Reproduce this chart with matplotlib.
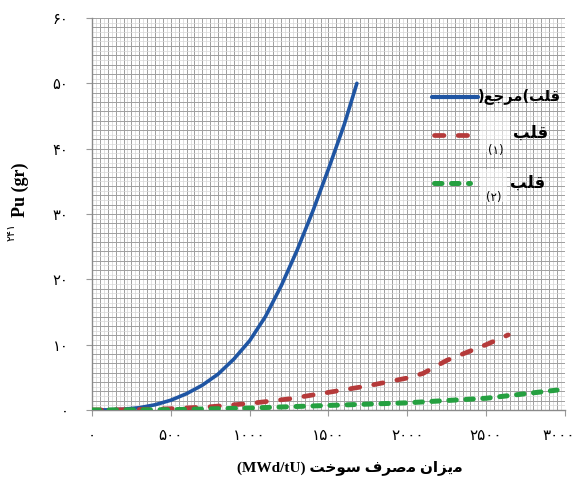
import matplotlib
matplotlib.use('Agg')

import matplotlib.pyplot as plt
import matplotlib.transforms as mtransforms
import numpy as np
from matplotlib.patches import Rectangle
from matplotlib.lines import Line2D

# ---------------- DATA ----------------
burnup_ref = [0, 100, 200, 300, 400, 500, 600, 700, 800, 900, 1000, 1100, 1200,
              1300, 1400, 1500, 1600, 1680]
pu_ref = [0.0, 0.02, 0.12, 0.35, 0.8, 1.5, 2.5, 3.8, 5.5, 7.8, 10.6, 14.3, 19.0,
          24.4, 30.4, 36.9, 43.7, 50.0]

burnup_c1 = [0, 250, 500, 750, 1000, 1250, 1500, 1750, 2000, 2100, 2250, 2500, 2640]
pu_c1 = [0.0, 0.05, 0.2, 0.5, 1.0, 1.7, 2.7, 3.7, 4.9, 5.6, 7.6, 10.0, 11.5]

burnup_c2 = [0, 500, 1000, 1500, 2000, 2500, 2950]
pu_c2 = [0.0, 0.05, 0.3, 0.7, 1.1, 1.8, 3.05]

x_ticks = [0, 500, 1000, 1500, 2000, 2500, 3000]
y_ticks = [0, 10, 20, 30, 40, 50, 60]

# Persian labels, written in visual order with Arabic presentation forms
label_ref = ")\uFECA\uFE9F\uFEAE\uFEE3(\uFE90\uFEE0\uFED7"   # قلب(مرجع)
label_core = "\uFE90\uFEE0\uFED7"                            # قلب
label_sub = ["(\u06F1)", "(\u06F2)"]
xlabel_fa = "\uFE96\uFEA7\uFEEE\uFEB3 \uFED1\uFEAE\uFEBB\uFEE3 \uFEE5\uFE8D\uFEB0\uFBFE\uFEE3"  # میزان مصرف سوخت
ylabel_sup = "\u06F2\u06F4\u06F1"

FA_DIGITS = str.maketrans("0123456789", "\u06F0\u06F1\u06F2\u06F3\u06F4\u06F5\u06F6\u06F7\u06F8\u06F9")


def fa(n):
    return str(int(n)).translate(FA_DIGITS)


# ---------------- STYLE ----------------
c_blue = '#1f55a3'
c_red = '#b53a3a'
c_green = '#25a040'

fig = plt.figure(figsize=(5.77, 4.84), dpi=100, facecolor='white')
ax = fig.add_axes([92/577, 74/484, 473/577, 392/484])
ax.set_xlim(0, 3000)
ax.set_ylim(0, 60)

# dense grid (dark + light lines)
for v in np.arange(0, 3001, 50):
    ax.axvline(v, color='#9f9f9f', lw=0.7, zorder=0)
    ax.axvline(v + 25, color='#d3d3d3', lw=0.5, zorder=0)
for h in np.arange(0, 60.01, 10/7):
    ax.axhline(h, color='#9f9f9f', lw=0.7, zorder=0)
    ax.axhline(h + 5/7, color='#d8d8d8', lw=0.5, zorder=0)

# ---------------- CURVES ----------------
ax.plot(burnup_ref, pu_ref, color=c_blue, lw=2.6, solid_capstyle='round',
        solid_joinstyle='round', zorder=3)
ax.plot(burnup_c1, pu_c1, color=c_red, lw=3.4, dashes=(2.0, 3.0),
        dash_capstyle='round', zorder=3)
ax.plot(burnup_c2, pu_c2, color=c_green, lw=3.6, dashes=(1.5, 1.9),
        dash_capstyle='round', zorder=3)

# ---------------- AXES ----------------
for s in ['top', 'right']:
    ax.spines[s].set_visible(False)
for s in ['left', 'bottom']:
    ax.spines[s].set_color('#8a8a8a')
    ax.spines[s].set_linewidth(1.0)

ax.set_xticks(x_ticks)
ax.set_xticklabels([fa(v) for v in x_ticks], family='DejaVu Sans', fontsize=11)
ax.set_yticks(y_ticks)
ax.set_yticklabels([fa(v) for v in y_ticks], family='DejaVu Sans', fontsize=10.5)
ax.tick_params(axis='x', length=4, color='#9a9a9a', pad=9)
ax.tick_params(axis='y', length=4, color='#9a9a9a', pad=13)

# keep the last x label inside the figure
last = ax.get_xticklabels()[-1]
last.set_horizontalalignment('right')
last.set_transform(last.get_transform() +
                   mtransforms.ScaledTranslation(10/100, 0, fig.dpi_scale_trans))

# ---------------- LEGEND (manual) ----------------
ax.add_line(Line2D([0.719, 0.816], [0.798, 0.798], transform=ax.transAxes,
                   color=c_blue, lw=3.0, solid_capstyle='round', zorder=4))
ax.add_line(Line2D([0.724, 0.812], [0.702, 0.702], transform=ax.transAxes,
                   color=c_red, lw=3.4, dashes=(2.0, 3.0), dash_capstyle='round', zorder=4))
ax.add_line(Line2D([0.722, 0.799], [0.579, 0.579], transform=ax.transAxes,
                   color=c_green, lw=3.6, dashes=(1.5, 1.9), dash_capstyle='round', zorder=4))

ax.add_patch(Rectangle((0.820, 0.658), 0.064, 0.102, transform=ax.transAxes,
                       facecolor='white', alpha=0.55, edgecolor='none', zorder=2))
ax.add_patch(Rectangle((0.820, 0.531), 0.057, 0.084, transform=ax.transAxes,
                       facecolor='white', alpha=0.55, edgecolor='none', zorder=2))

ax.text(0.992, 0.802, label_ref, transform=ax.transAxes, ha='right', va='center',
        family='DejaVu Sans', fontweight='bold', fontsize=10.5, zorder=5)
ax.text(0.964, 0.708, label_core, transform=ax.transAxes, ha='right', va='center',
        family='DejaVu Sans', fontweight='bold', fontsize=12, zorder=5)
ax.text(0.854, 0.663, label_sub[0], transform=ax.transAxes, ha='center', va='center',
        family='DejaVu Sans', fontsize=8.5, zorder=5)
ax.text(0.958, 0.580, label_core, transform=ax.transAxes, ha='right', va='center',
        family='DejaVu Sans', fontweight='bold', fontsize=12, zorder=5)
ax.text(0.850, 0.543, label_sub[1], transform=ax.transAxes, ha='center', va='center',
        family='DejaVu Sans', fontsize=8.5, zorder=5)

# ---------------- LABELS ----------------
fig.text(350/577, (484-468)/484, "(MWd/tU) " + xlabel_fa, ha='center', va='center',
         family=['Liberation Serif', 'DejaVu Sans'], fontweight='bold', fontsize=11)
fig.text(20/577, (484-190)/484, "Pu (gr)", rotation=90, ha='center', va='center',
         family=['Liberation Serif', 'DejaVu Sans'], fontweight='bold', fontsize=13)
fig.text(12/577, (484-232)/484, ylabel_sup, rotation=90, ha='center', va='center',
         family='DejaVu Sans', fontsize=8)

fig.savefig('out.png', dpi=100)
plt.close(fig)
